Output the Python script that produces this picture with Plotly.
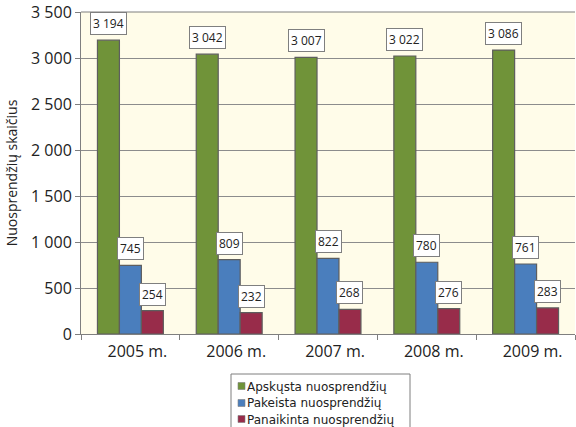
import plotly.graph_objects as go

years = ["2005 m.", "2006 m.", "2007 m.", "2008 m.", "2009 m."]
apskusta = [3194, 3042, 3007, 3022, 3086]
pakeista = [745, 809, 822, 780, 761]
panaikinta = [254, 232, 268, 276, 283]

series = [
    ("Apskųsta nuosprendžių", apskusta, "#709339"),
    ("Pakeista nuosprendžių", pakeista, "#4A7EBD"),
    ("Panaikinta nuosprendžių", panaikinta, "#982C4A"),
]

y_ticks = [0, 500, 1000, 1500, 2000, 2500, 3000, 3500]
y_tick_text = [f"{v:,}".replace(",", " ") for v in y_ticks]

FONT = "Open Sans"
LEGEND_FONT = "DejaVu Sans"
W, H = 576, 427
M_L, M_R, M_T, M_B = 81, 1, 12, 93
BARGAP = 0.333
plot_w = W - M_L - M_R
plot_h = H - M_T - M_B


def px_x(px):
    return (px - M_L) / plot_w


def px_y(py):
    return (H - M_B - py) / plot_h


fig = go.Figure()
for name, vals, color in series:
    fig.add_trace(go.Bar(
        x=years, y=vals, name=name, showlegend=False,
        marker=dict(color=color, line=dict(color="#5E5E5E", width=1.2)),
    ))

# value boxes above each bar
cat_px = plot_w / len(years)
bar_px = cat_px * (1 - BARGAP) / len(series)
for k, (name, vals, color) in enumerate(series):
    shift = (k - 1) * bar_px
    for yr, v in zip(years, vals):
        fig.add_annotation(
            x=yr, y=v, xref="x", yref="y",
            text=f"{v:,}".replace(",", " "),
            showarrow=False, yanchor="bottom", xanchor="center",
            xshift=shift, yshift=5,
            bgcolor="white", bordercolor="#7F7F7F", borderwidth=1, borderpad=2,
            font=dict(family=FONT, size=12, color="#222"),
        )

# legend box below the chart
lg_left, lg_top, lg_right = 231, 374, 410
fig.add_shape(type="rect", xref="paper", yref="paper",
              x0=px_x(lg_left), x1=px_x(lg_right), y0=px_y(H + 5), y1=px_y(lg_top),
              line=dict(color="#7F7F7F", width=1), fillcolor="white", layer="above")
row_y = [386, 403, 419]
for (name, vals, color), ry in zip(series, row_y):
    fig.add_shape(type="rect", xref="paper", yref="paper",
                  x0=px_x(238), x1=px_x(245), y0=px_y(ry + 3.5), y1=px_y(ry - 3.5),
                  line=dict(color="#7F7F7F", width=0.6), fillcolor=color, layer="above")
    fig.add_annotation(x=px_x(246), y=px_y(ry), xref="paper", yref="paper",
                       text=name, showarrow=False, xanchor="left", yanchor="middle",
                       height=15, borderpad=0,
                       font=dict(family=LEGEND_FONT, size=12, color="#222"))

fig.update_layout(
    width=W, height=H,
    margin=dict(l=M_L, r=M_R, t=M_T, b=M_B, autoexpand=False),
    paper_bgcolor="white",
    plot_bgcolor="#FFFCE9",
    barmode="group", bargap=BARGAP, bargroupgap=0,
    font=dict(family=FONT, size=16, color="#222"),
    showlegend=False,
)
fig.update_xaxes(
    type="category", tickson="boundaries",
    ticks="outside", ticklen=5, tickcolor="#7F7F7F",
    showline=True, linecolor="#7F7F7F",
    ticklabelshift=7, ticklabelstandoff=3,
    tickfont=dict(family=FONT, size=16),
)
fig.update_yaxes(
    range=[0, 3500], tickvals=y_ticks, ticktext=y_tick_text,
    ticks="outside", ticklen=5, tickcolor="#7F7F7F",
    showline=True, linecolor="#7F7F7F",
    showgrid=True, gridcolor="#8C8C8C", gridwidth=1,
    zeroline=False,
    tickfont=dict(family=FONT, size=16),
    title=dict(text="Nuosprendžių skaičius", font=dict(family=FONT, size=14), standoff=10),
)
# top edge of the plotting area
fig.add_shape(type="line", xref="paper", yref="paper", x0=0, x1=1, y0=1, y1=1,
              line=dict(color="#7F7F7F", width=1))

fig.write_html("out.html")
